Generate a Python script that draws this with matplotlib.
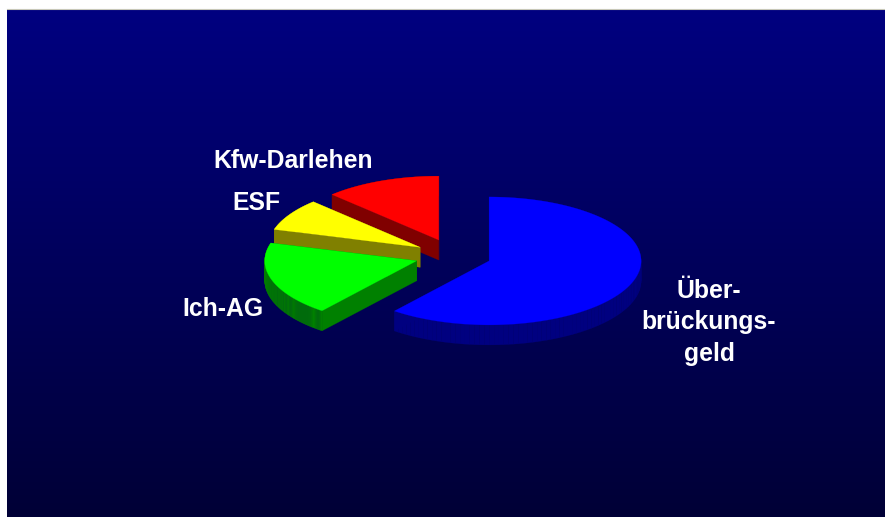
import numpy as np
import matplotlib
matplotlib.use('Agg')
import matplotlib.pyplot as plt

# pie data, percent shares
labels = ['Kfw-Darlehen', 'ESF', 'Ich-AG', 'Über-\nbrückungs-\ngeld']
values = [12.4, 8.1, 18.8, 60.7]   # counter clockwise from 12 o'clock
explode = [0.265, 0.26, 0.258, 0.244]
top_colors = ['#ff0000', '#ffff00', '#00ff00', '#0000ff']
side_colors = ['#800000', '#808000', '#008000', '#000080']
label_pos = [(293, 160.5), (256, 203), (223, 309), (709, 322.5)]

# fake 3d pie geometry, in pixels
cx, cy = 454.1, 255.8
rx, ry = 152, 64
depth = 20

W, H = 885, 517
fig = plt.figure(figsize=(W / 100, H / 100), dpi=100, facecolor='white')
ax = fig.add_axes([0, 0, 1, 1])
ax.set_xlim(0, W)
ax.set_ylim(H, 0)
ax.axis('off')

# background gradient
grad = np.linspace(0, 1, 256).reshape(-1, 1)
top = np.array([0, 0, 128]) / 255
bottom = np.array([0, 0, 54]) / 255
img = (top + (bottom - top) * grad[..., None]).reshape(256, 1, 3)
ax.imshow(img, extent=[7, W, H, 9], aspect='auto', zorder=0)
ax.set_xlim(0, W)
ax.set_ylim(H, 0)

# thin grey line on top of the slide
ax.plot([7, W], [8.5, 8.5], color='#c8c8b8', lw=0.8, zorder=1)

# wedges go counter clockwise from the top
start = 0.0
for val, ex, c_top, c_side in zip(values, explode, top_colors, side_colors):
    a0 = np.radians(start)
    a1 = np.radians(start + val * 3.6)
    mid = (a0 + a1) / 2
    x0 = cx - ex * rx * np.sin(mid)
    y0 = cy - ex * ry * np.cos(mid)
    t = np.linspace(a0, a1, 120)
    xs = np.r_[x0, x0 - rx * np.sin(t)]
    ys = np.r_[y0, y0 - ry * np.cos(t)]
    # side walls first, the top face covers the hidden ones
    for i in range(len(xs)):
        j = (i + 1) % len(xs)
        ax.fill([xs[i], xs[j], xs[j], xs[i]],
                [ys[i], ys[j], ys[j] + depth, ys[i] + depth],
                color=c_side, lw=0.15, zorder=2)
    ax.fill(xs, ys, color=c_top, lw=0.15, zorder=2)
    start += val * 3.6

for lab, (lx, ly) in zip(labels, label_pos):
    ax.text(lx, ly, lab, color='white', fontsize=17.8, fontweight='bold',
            family='Liberation Sans', ha='center', va='center',
            linespacing=1.42, zorder=5)

fig.savefig('out.png', dpi=100)
